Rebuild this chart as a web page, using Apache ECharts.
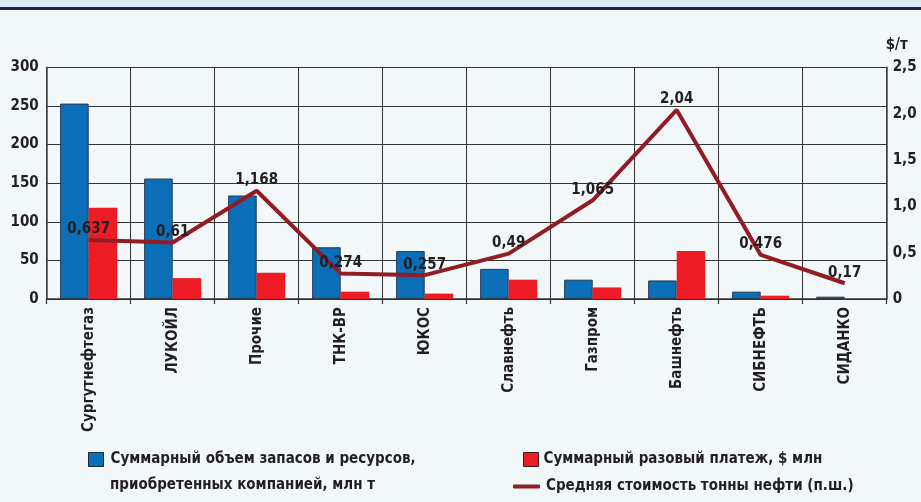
<!DOCTYPE html>
<html><head><meta charset="utf-8">
<script src="https://cdn.jsdelivr.net/npm/echarts@6/dist/echarts.min.js"></script>
<style>html,body{margin:0;padding:0;background:#F2F7FA}#c{width:921px;height:502px}</style>
</head><body><div id="c"></div>
<script>
const categories = ['Сургутнефтегаз','ЛУКОЙЛ','Прочие','ТНК-ВР','ЮКОС','Славнефть','Газпром','Башнефть','СИБНЕФТЬ','СИДАНКО'];
const reserves = [253, 156, 134, 67, 62, 39, 25, 24, 9.5, 3];
const payments = [118, 27, 34, 9.5, 7, 25, 15, 62, 4.3, 0];
const avgCost = [0.637, 0.61, 1.168, 0.274, 0.257, 0.49, 1.065, 2.04, 0.476, 0.17];
const leftTicks = [0, 300, 50];
const rightTicks = [0, 2.5, 0.5];

const FONT = "'DejaVu Sans Condensed','Liberation Sans Narrow',sans-serif";
const S1 = 'Суммарный объем запасов и ресурсов,\nприобретенных компанией, млн т';
const S2 = 'Суммарный разовый платеж, $ млн';
const S3 = 'Средняя стоимость тонны нефти (п.ш.)';
const comma = v => String(v).replace('.', ',');
const txt = {fontFamily: FONT, fontWeight: 'bold', fontSize: 15, color: '#231F20'};

const chart = echarts.init(document.getElementById('c'), null, {renderer: 'canvas'});
chart.setOption({
  backgroundColor: '#F2F7FA',
  animation: false,
  graphic: [
    {type: 'rect', left: 0, top: 0, shape: {width: 921, height: 7}, style: {fill: '#DCEAF3'}},
    {type: 'rect', left: 0, top: 7, shape: {width: 921, height: 3}, style: {fill: '#1F1F5C'}}
  ],
  grid: {left: 46.7, right: 34.3, top: 67.3, bottom: 203, containLabel: false},
  legend: [
    {left: 83, top: 447, itemWidth: 15, itemHeight: 14, selectedMode: false, data: [{name: S1, icon: 'rect', itemStyle: {color: '#0A6EB9', borderColor: '#1b2a3a', borderWidth: 1}}],
     formatter: n => n.split('\n')[0], textStyle: Object.assign({padding: [0,0,0,2]}, txt)},
    {left: 83, top: 473, itemWidth: 15, itemHeight: 14, selectedMode: false, data: [{name: S1, icon: 'rect', itemStyle: {color: 'rgba(0,0,0,0)', borderWidth: 0}}],
     formatter: n => n.split('\n')[1], textStyle: Object.assign({padding: [0,0,0,2]}, txt)},
    {left: 518, top: 447, itemWidth: 15, itemHeight: 14, selectedMode: false, data: [{name: S2, icon: 'rect', itemStyle: {color: '#ED1C24', borderColor: '#3a1a1a', borderWidth: 1}}],
     textStyle: Object.assign({padding: [0,0,0,0]}, txt)},
    {left: 508, top: 474, itemWidth: 27, itemHeight: 4, selectedMode: false, data: [{name: S3, icon: 'roundRect', itemStyle: {color: '#931C22'}}],
     textStyle: Object.assign({padding: [0,0,0,1]}, txt)}
  ],
  xAxis: {
    type: 'category', data: categories, boundaryGap: true,
    axisLine: {lineStyle: {color: '#333', width: 1.5}},
    axisTick: {show: true, length: 5, lineStyle: {color: '#333', width: 1.2}},
    splitLine: {show: true, lineStyle: {color: '#333', width: 1}},
    axisLabel: Object.assign({rotate: 90, margin: 8, interval: 0}, txt)
  },
  yAxis: [
    {type: 'value', min: leftTicks[0], max: leftTicks[1], interval: leftTicks[2],
     axisLine: {show: true, lineStyle: {color: '#444', width: 1.5}},
     axisTick: {show: false},
     splitLine: {show: true, lineStyle: {color: '#333', width: 1}},
     axisLabel: Object.assign({margin: 8}, txt)},
    {type: 'value', min: rightTicks[0], max: rightTicks[1], interval: rightTicks[2], position: 'right',
     name: '$/т', nameLocation: 'end', nameGap: 22,
     nameTextStyle: Object.assign({align: 'left', verticalAlign: 'middle', padding: [0,0,0,-1]}, txt),
     axisLine: {show: true, lineStyle: {color: '#444', width: 1.5}},
     axisTick: {show: false},
     splitLine: {show: false},
     axisLabel: Object.assign({margin: 6, formatter: v => v === 0 ? '0' : v.toFixed(1).replace('.', ',')}, txt)}
  ],
  series: [
    {name: S1, type: 'bar', data: reserves, barGap: '0%', barCategoryGap: '32%',
     itemStyle: {color: '#0A6EB9', borderColor: '#2a3a4a', borderWidth: 1}},
    {name: S2, type: 'bar', data: payments,
     itemStyle: {color: '#ED1C24'}},
    {name: S3, type: 'line', yAxisIndex: 1, data: avgCost, symbol: 'circle', symbolSize: 0.01, showSymbol: true, z: 5,
     lineStyle: {color: '#931C22', width: 4},
     itemStyle: {color: '#931C22'},
     label: Object.assign({show: true, position: 'top', distance: 3, formatter: p => comma(p.value)}, txt)}
  ]
});
</script></body></html>
